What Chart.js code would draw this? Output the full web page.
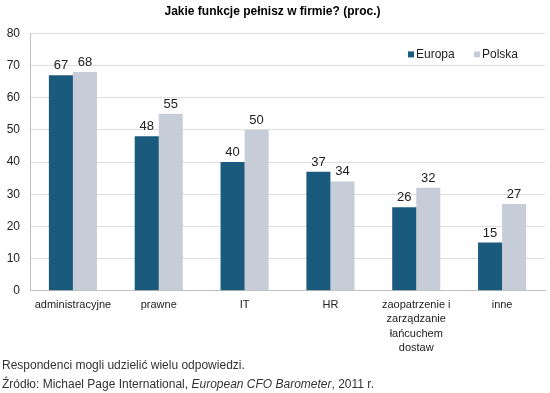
<!DOCTYPE html>
<html>
<head>
<meta charset="utf-8">
<script src="https://cdn.jsdelivr.net/npm/chart.js@4/dist/chart.umd.min.js"></script>
<style>
    body { margin: 0; background: #fff; }
    #wrap { position: relative; width: 550px; height: 393px; font-family: "Liberation Sans", Arial, sans-serif; }
    #chart-box { position: absolute; left: 0; top: 0; width: 550px; height: 362px; }
    .note { position: absolute; left: 2px; font-size: 12px; color: #333; white-space: nowrap; }
</style>
</head>
<body>
<div id="wrap">
    <div id="chart-box"><canvas id="functions-chart"></canvas></div>
    <div class="note" style="top: 358px;">Respondenci mogli udzielić wielu odpowiedzi.</div>
    <div class="note" style="top: 377px;">Źródło: Michael Page International, <i>European CFO Barometer</i>, 2011 r.</div>
</div>
<script>
const categories = [
    'administracyjne',
    'prawne',
    'IT',
    'HR',
    ['zaopatrzenie i', 'zarządzanie', 'łańcuchem', 'dostaw'],
    'inne'
];
const europaValues = [67, 48, 40, 37, 26, 15];
const polskaValues = [68, 55, 50, 34, 32, 27];
const yTicks = [0, 10, 20, 30, 40, 50, 60, 70, 80];

const FONT = '"Liberation Sans", Arial, sans-serif';

// Value labels above each bar
const barLabels = {
    id: 'barLabels',
    afterDatasetsDraw(chart) {
        const ctx = chart.ctx;
        ctx.save();
        ctx.font = '13px ' + FONT;
        ctx.fillStyle = '#222';
        ctx.textAlign = 'center';
        ctx.textBaseline = 'bottom';
        chart.data.datasets.forEach((ds, i) => {
            chart.getDatasetMeta(i).data.forEach((bar, j) => {
                ctx.fillText(ds.data[j], bar.x, bar.y - 3);
            });
        });
        ctx.restore();
    }
};

// Small legend inside the plot, top right
const innerLegend = {
    id: 'innerLegend',
    afterDraw(chart) {
        const ctx = chart.ctx;
        const area = chart.chartArea;
        ctx.save();
        ctx.font = '12px ' + FONT;
        ctx.textBaseline = 'middle';
        const y = area.top + 21;
        let x = area.right - 137;
        chart.data.datasets.forEach(ds => {
            ctx.fillStyle = ds.backgroundColor;
            ctx.fillRect(x, y - 3, 6, 6);
            ctx.fillStyle = '#222';
            ctx.fillText(ds.label, x + 8, y);
            x += 66;
        });
        ctx.restore();
    }
};

const ctx = document.getElementById('functions-chart').getContext('2d');
new Chart(ctx, {
    type: 'bar',
    data: {
        labels: categories,
        datasets: [{
            label: 'Europa',
            data: europaValues,
            backgroundColor: '#1a5a7d',
            categoryPercentage: 0.56,
            barPercentage: 1.0
        }, {
            label: 'Polska',
            data: polskaValues,
            backgroundColor: '#c6cdd9',
            categoryPercentage: 0.56,
            barPercentage: 1.0
        }]
    },
    options: {
        responsive: true,
        maintainAspectRatio: false,
        animation: false,
        layout: { padding: { left: 0, right: 5, top: 0, bottom: 0 } },
        scales: {
            x: {
                grid: { display: false, drawTicks: false },
                border: { color: '#bfbfbf' },
                ticks: {
                    color: '#222',
                    font: { family: FONT, size: 11, lineHeight: 1.3 },
                    padding: 7,
                    maxRotation: 0,
                    autoSkip: false
                }
            },
            y: {
                min: 0,
                max: 80,
                afterBuildTicks: axis => { axis.ticks = yTicks.map(v => ({ value: v })); },
                afterFit: axis => { axis.width = 30; },
                grid: { color: '#dedede', drawTicks: false },
                border: { color: '#bfbfbf' },
                ticks: {
                    color: '#222',
                    font: { family: FONT, size: 12 },
                    padding: 10
                }
            }
        },
        plugins: {
            title: {
                display: true,
                text: 'Jakie funkcje pełnisz w firmie? (proc.)',
                color: '#000',
                font: { family: FONT, size: 12, weight: 'bold' },
                padding: { top: 4, bottom: 15 }
            },
            legend: { display: false },
            tooltip: { enabled: false }
        }
    },
    plugins: [barLabels, innerLegend]
});
</script>
</body>
</html>
